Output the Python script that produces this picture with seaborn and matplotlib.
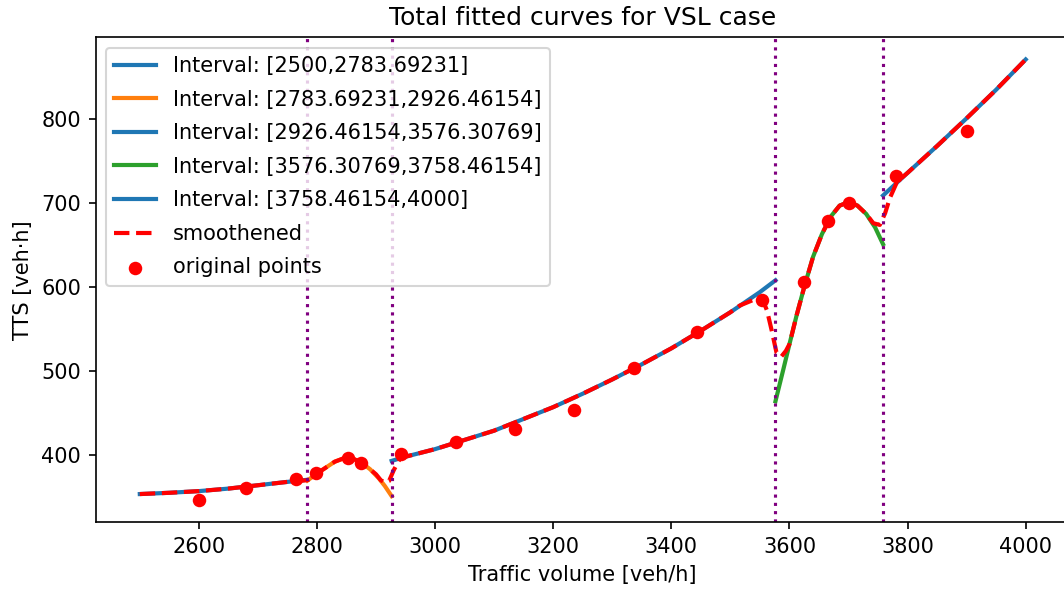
import matplotlib
matplotlib.use("Agg")
import matplotlib.pyplot as plt
import seaborn as sns

# ---- data ----
int1_x = [2500, 2550, 2600, 2650, 2700, 2750, 2783.69231]
int1_y = [353.5, 355, 357, 360, 364, 368, 370.5]

int2_x = [2783.69231, 2800, 2815, 2830, 2845, 2860, 2875, 2890, 2905, 2915, 2926.46154]
int2_y = [369.5, 378, 385, 392, 396, 396, 391, 383, 372, 363, 351]

int3_x = [2926.46154, 2950, 3000, 3050, 3100, 3150, 3200, 3250, 3300, 3350, 3400,
          3450, 3500, 3550, 3576.30769]
int3_y = [393, 398, 407, 418, 429, 443, 457, 473, 490, 508, 527, 548, 570, 594, 608]

int4_x = [3576.30769, 3590, 3600, 3612, 3625, 3640, 3655, 3670, 3685, 3700, 3715,
          3730, 3745, 3758.46154]
int4_y = [464, 503, 532, 566, 600, 636, 663, 684, 697, 701, 697, 687, 671, 651]

int5_x = [3758.46154, 3800, 3850, 3900, 3950, 4000]
int5_y = [709, 736, 768, 801, 835, 871]

smooth_x = [2500, 2550, 2600, 2650, 2700, 2750, 2784, 2800, 2815, 2830, 2845, 2860,
            2875, 2890, 2900, 2908, 2916, 2922, 2930, 2940, 2950, 3000, 3050, 3100,
            3150, 3200, 3250, 3300, 3350, 3400, 3450, 3500, 3516, 3540, 3554, 3562,
            3570, 3578, 3586, 3594, 3600, 3612, 3625, 3640, 3655, 3670, 3685, 3700,
            3715, 3730, 3742, 3753, 3762, 3770, 3782, 3800, 3850, 3900, 3950, 4000]
smooth_y = [353.5, 355, 357, 360, 364, 368, 370, 378, 385, 392, 396, 396,
            391, 383, 377, 370, 367, 369, 382, 395, 398, 407, 418, 429,
            443, 457, 473, 490, 508, 527, 548, 570, 578, 585, 586, 572,
            548, 522, 517, 524, 532, 566, 600, 636, 663, 684, 697, 701,
            697, 687, 676, 674, 688, 706, 725, 736, 768, 801, 835, 871]

points_x = [2600, 2680, 2765, 2798, 2853, 2874, 2943, 3036, 3135, 3235, 3337, 3443,
            3554, 3625, 3665, 3700, 3780, 3900]
points_y = [346, 361, 372, 378, 396, 391, 401, 415, 431, 454, 504, 546,
            585, 606, 679, 700, 732, 786]

interval_labels = ["Interval: [2500,2783.69231]",
                   "Interval: [2783.69231,2926.46154]",
                   "Interval: [2926.46154,3576.30769]",
                   "Interval: [3576.30769,3758.46154]",
                   "Interval: [3758.46154,4000]"]
interval_colors = ["#1f77b4", "#ff7f0e", "#1f77b4", "#2ca02c", "#1f77b4"]
boundaries = [2783.69231, 2926.46154, 3576.30769, 3758.46154]

# ---- figure ----
DPI = 150
fig = plt.figure(figsize=(1064 / DPI, 590 / DPI), dpi=DPI)
ax = fig.add_axes([95.5 / 1064, 67.6 / 590, 974.5 / 1064, 485 / 590])

curves = [(int1_x, int1_y), (int2_x, int2_y), (int3_x, int3_y),
          (int4_x, int4_y), (int5_x, int5_y)]
for (xs, ys), lab, col in zip(curves, interval_labels, interval_colors):
    sns.lineplot(x=xs, y=ys, color=col, linewidth=2, label=lab, ax=ax,
                 estimator=None, sort=False)

sns.scatterplot(x=points_x, y=points_y, color="red", s=42, linewidth=0,
                label="original points", ax=ax, zorder=3)

sns.lineplot(x=smooth_x, y=smooth_y, color="red", linestyle="--", linewidth=2,
             label="smoothened", ax=ax, estimator=None, sort=False)

for b in boundaries:
    ax.axvline(b, color="purple", linestyle=":", linewidth=1.5)

ax.set_title("Total fitted curves for VSL case", fontsize=12)
ax.set_xlabel("Traffic volume [veh/h]")
ax.set_ylabel("TTS [veh·h]")

handles, labels = ax.get_legend_handles_labels()
order = interval_labels + ["smoothened", "original points"]
hmap = dict(zip(labels, handles))
ax.legend([hmap[l] for l in order], order, loc="upper left", labelspacing=0.65)

fig.savefig("out.png", dpi=DPI)
